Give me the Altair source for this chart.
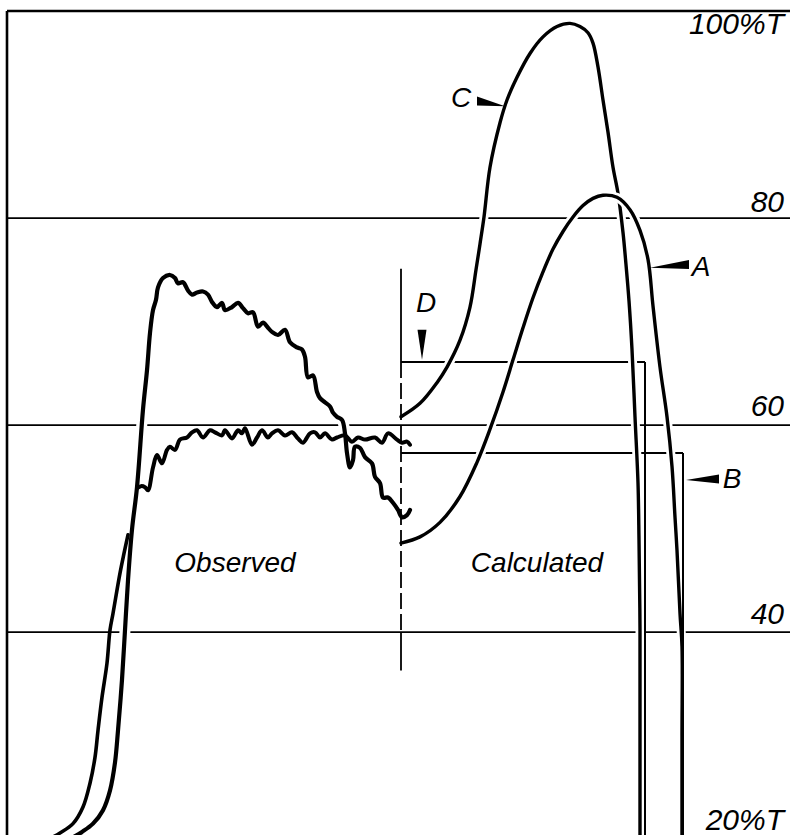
import altair as alt
import pandas as pd

# Horizontal position along the chart paper and transmission (%T).
POS_DOMAIN = [7, 790]
T_DOMAIN = [20.4, 100]
PLOT_W, PLOT_H = 783, 824

# Observed traces: the main trace (rise, maximum, wavy decline) ...
obs_main = [
    (68, 19.9), (82, 20.7), (93, 21.5), (103, 22.8), (110, 24.7), (115, 27.4),
    (118, 30.5), (122, 35.4), (125, 40.2), (128, 45.0), (132, 49.9), (137, 54.0),
    (143, 61.5), (147, 65.3), (150, 68.9), (153, 71.1), (156, 72.1), (158, 73.3),
    (163, 74.2), (170, 74.5), (175, 74.2), (178, 73.7), (183, 73.8), (188, 73.0),
    (192, 72.6), (197, 72.8), (203, 72.9), (208, 72.6), (212, 71.9), (217, 71.4),
    (222, 71.8), (225, 71.1), (232, 71.4), (238, 71.8), (243, 71.3), (248, 70.8),
    (253, 70.9), (258, 69.5), (263, 69.9), (268, 69.4), (272, 69.0), (278, 68.7),
    (285, 69.2), (290, 68.0), (297, 67.5), (302, 67.3), (305, 66.6), (308, 64.6),
    (313, 64.8), (317, 63.2), (320, 62.6), (325, 62.2), (330, 61.8), (333, 61.2),
    (337, 60.8), (342, 60.5), (345, 59.2), (347, 57.3), (350, 55.9), (353, 56.6),
    (355, 57.9), (360, 57.8), (365, 56.9), (372, 56.3), (375, 55.0), (380, 54.4),
    (383, 53.0), (388, 53.0), (393, 52.5), (398, 51.8), (402, 51.1), (407, 51.3),
    (410, 51.8),
]
# ... the flat trace branching off the rise ...
obs_plateau = [
    (137, 53.9), (141, 54.1), (145, 54.0), (148, 53.7), (153, 55.9), (157, 57.1),
    (162, 56.3), (167, 57.6), (170, 57.9), (175, 57.6), (180, 58.6), (187, 58.8),
    (192, 59.3), (197, 59.5), (203, 58.8), (210, 59.5), (215, 59.3), (222, 59.0),
    (225, 59.5), (232, 58.7), (238, 59.5), (242, 59.2), (245, 59.7), (252, 58.1),
    (257, 58.8), (262, 59.5), (268, 58.8), (272, 59.2), (278, 59.5), (285, 59.0),
    (292, 59.3), (298, 58.7), (303, 58.3), (310, 59.2), (315, 59.3), (320, 58.8),
    (325, 59.2), (332, 58.6), (337, 58.8), (345, 59.0), (352, 58.4), (358, 58.8),
    (365, 58.6), (375, 58.8), (382, 58.3), (388, 59.2), (397, 58.6), (402, 58.3),
    (407, 58.4), (410, 58.1),
]
# ... and the short rising edge to its left.
obs_lower = [
    (45, 19.8), (60, 20.6), (73, 21.5), (83, 23.1), (90, 25.4), (95, 27.9),
    (98, 30.5), (102, 33.7), (107, 37.0), (110, 40.2), (113, 41.8), (120, 45.7),
    (124, 47.6), (128, 49.4),
]

# Calculated bands C and A.
calc_c = [
    (401, 60.8), (420, 62.1), (437, 64.1), (447, 65.6), (460, 68.2), (470, 71.4),
    (476, 75.0), (480, 77.5), (484, 80.1), (490, 84.9), (500, 89.2), (507, 91.4),
    (517, 93.6), (530, 95.9), (543, 97.5), (557, 98.5), (570, 98.8), (580, 98.5),
    (588, 97.9), (593, 96.9), (598, 94.6), (603, 91.4), (608, 88.3), (613, 84.9),
    (618, 82.4), (623, 78.6), (626, 75.5), (629, 72.0), (632, 67.3), (635, 60.8),
    (638, 54.4), (639, 48.9), (640, 40.2), (640, 30.5), (640, 19.0),
]
calc_a = [
    (401, 48.6), (420, 49.2), (440, 50.6), (460, 53.1), (477, 56.4), (490, 59.6),
    (503, 63.2), (513, 66.3), (523, 69.4), (533, 72.3), (543, 74.8), (553, 77.0),
    (563, 78.7), (573, 80.1), (583, 81.2), (593, 81.9), (603, 82.2), (617, 82.0),
    (630, 80.8), (640, 78.8), (648, 76.0), (653, 71.5), (660, 65.6), (667, 60.8),
    (672, 56.0), (675, 51.1), (677, 47.9), (680, 41.8), (682, 38.6), (682, 30.0),
    (682, 19.0),
]

# Step outlines D and B: a level run, then a drop at the cut-off.
box_d_run = [(401, 66.1), (645, 66.1)]
box_d_drop = [(645, 66.1), (645, 19.0)]
box_b_run = [(401, 57.3), (683, 57.3)]
box_b_drop = [(683, 57.3), (683, 19.0)]

# Divider between the observed and calculated halves.
split_pos = 401
split_solid = [(75.1, 66.1), (40.0, 36.3)]
split_dashed = [(66.1, 40.0)]

grid_levels = [100, 80, 60, 40]
scale_labels = ["100%T", "80", "60", "40", "20%T"]
scale_label_t = [98.6, 81.5, 61.7, 41.7, 21.8]

# Curve tags with tapered pointers (base beside the letter, tip on the curve).
tags = ["C", "A", "B", "D"]
tag_pos = [461, 701, 732, 426]
tag_t = [91.5, 75.2, 54.7, 71.7]
side_tags = ["C", "A", "B"]
side_base = [(477, 91.3), (689, 75.5), (719, 54.8)]
side_tip = [(505, 90.8), (650, 75.2), (686, 54.7)]
drop_base = (422, 69.2)
drop_tip = (422, 66.3)
POINTER_BASE_PX = 9

region_names = ["Observed", "Calculated"]
region_pos = [235, 537]
region_t = [46.6, 46.6]

FONT = "Liberation Sans"
PX_PER_POS = PLOT_W / (POS_DOMAIN[1] - POS_DOMAIN[0])
PX_PER_T = PLOT_H / (T_DOMAIN[1] - T_DOMAIN[0])


def x_enc(field="pos"):
    return alt.X(f"{field}:Q", scale=alt.Scale(domain=POS_DOMAIN, nice=False, zero=False), axis=None)


def y_enc(field="t"):
    return alt.Y(f"{field}:Q", scale=alt.Scale(domain=T_DOMAIN, nice=False, zero=False), axis=None)


def path_df(points):
    df = pd.DataFrame(points, columns=["pos", "t"])
    df["i"] = range(len(df))
    return df


def path_base(points):
    return alt.Chart(path_df(points)).encode(x=x_enc(), y=y_enc(), order="i:Q")


def halo(points, width, interpolate="catmull-rom"):
    # white casing that opens a small gap in whatever the trace crosses
    return path_base(points).mark_line(color="white", strokeWidth=width, clip=True,
                                       interpolate=interpolate, strokeCap="round")


def ink(points, width, interpolate="catmull-rom"):
    return path_base(points).mark_line(color="black", strokeWidth=width, clip=True,
                                       interpolate=interpolate, strokeCap="round",
                                       strokeJoin="round")


def thin(points, width=2):
    return path_base(points).mark_line(color="black", strokeWidth=width, clip=True)


grid_df = pd.DataFrame({"t": grid_levels, "p0": POS_DOMAIN[0], "p1": POS_DOMAIN[1]})
grid = alt.Chart(grid_df).mark_rule(color="black", strokeWidth=1.8).encode(
    x=x_enc("p0"), x2="p1:Q", y=y_enc())

frame_df = pd.DataFrame({"pos": [POS_DOMAIN[0]], "t0": [T_DOMAIN[0]], "t1": [100]})
frame = alt.Chart(frame_df).mark_rule(color="black", strokeWidth=2.6).encode(
    x=x_enc(), y=y_enc("t0"), y2="t1:Q")

top_df = pd.DataFrame({"t": [100], "p0": POS_DOMAIN[0], "p1": POS_DOMAIN[1]})
top = alt.Chart(top_df).mark_rule(color="black", strokeWidth=2.4).encode(
    x=x_enc("p0"), x2="p1:Q", y=y_enc())

solid_df = pd.DataFrame(split_solid, columns=["t0", "t1"]).assign(pos=split_pos)
dashed_df = pd.DataFrame(split_dashed, columns=["t0", "t1"]).assign(pos=split_pos)
split = [
    alt.Chart(solid_df).mark_rule(color="black", strokeWidth=1.8).encode(
        x=x_enc(), y=y_enc("t0"), y2="t1:Q"),
    alt.Chart(dashed_df).mark_rule(color="black", strokeWidth=1.8, strokeDash=[16, 5]).encode(
        x=x_enc(), y=y_enc("t0"), y2="t1:Q"),
]

# Sideways pointers: filled wedges, flat at the letter end.
half_t = POINTER_BASE_PX / 2 / PX_PER_T
side_rows = []
for tag, (bp, bt), (tp, tt) in zip(side_tags, side_base, side_tip):
    side_rows.append({"tag": tag, "pos": bp, "lo": bt - half_t, "hi": bt + half_t})
    side_rows.append({"tag": tag, "pos": tp, "lo": tt, "hi": tt})
side_pointers = alt.Chart(pd.DataFrame(side_rows)).mark_area(
    color="black", orient="vertical", opacity=1
).encode(x=x_enc(), y=y_enc("lo"), y2="hi:Q", detail="tag:N")

# Downward pointer for D.
half_pos = POINTER_BASE_PX / 2 / PX_PER_POS
drop_rows = [
    {"t": drop_base[1], "lo": drop_base[0] - half_pos, "hi": drop_base[0] + half_pos},
    {"t": drop_tip[1], "lo": drop_tip[0], "hi": drop_tip[0]},
]
drop_pointer = alt.Chart(pd.DataFrame(drop_rows)).mark_area(
    color="black", orient="horizontal", opacity=1
).encode(y=y_enc(), x=x_enc("lo"), x2="hi:Q")

tag_text = alt.Chart(pd.DataFrame({"label": tags, "pos": tag_pos, "t": tag_t})).mark_text(
    font=FONT, fontSize=28, fontStyle="italic", color="black", baseline="middle", align="center"
).encode(x=x_enc(), y=y_enc(), text="label:N")

scale_text = alt.Chart(pd.DataFrame({"label": scale_labels, "pos": 784, "t": scale_label_t})).mark_text(
    font=FONT, fontSize=30, fontStyle="italic", color="black", baseline="middle", align="right"
).encode(x=x_enc(), y=y_enc(), text="label:N")

region_text = alt.Chart(pd.DataFrame({"label": region_names, "pos": region_pos, "t": region_t})).mark_text(
    font=FONT, fontSize=28, fontStyle="italic", color="black", baseline="middle", align="center"
).encode(x=x_enc(), y=y_enc(), text="label:N")

layers = [grid, top, frame, thin(box_d_run), thin(box_b_run)]
# observed half
layers += [halo(obs_main, 11), ink(obs_plateau, 4), ink(obs_main, 4.2), ink(obs_lower, 3.6)]
# calculated half
layers += [halo(calc_c, 9), ink(calc_c, 3.4), halo(calc_a, 9), ink(calc_a, 3.4)]
layers += [thin(box_d_drop), thin(box_b_drop)]
layers += split
layers += [side_pointers, drop_pointer, tag_text, scale_text, region_text]

chart = alt.layer(*layers).properties(
    width=PLOT_W, height=PLOT_H,
    autosize=alt.AutoSizeParams(type="none"),
    padding={"left": 7, "top": 11, "right": 0, "bottom": 0},
    background="white",
).configure_view(stroke=None)

chart.save("out.html", embed_options={"renderer": "svg", "actions": False})
